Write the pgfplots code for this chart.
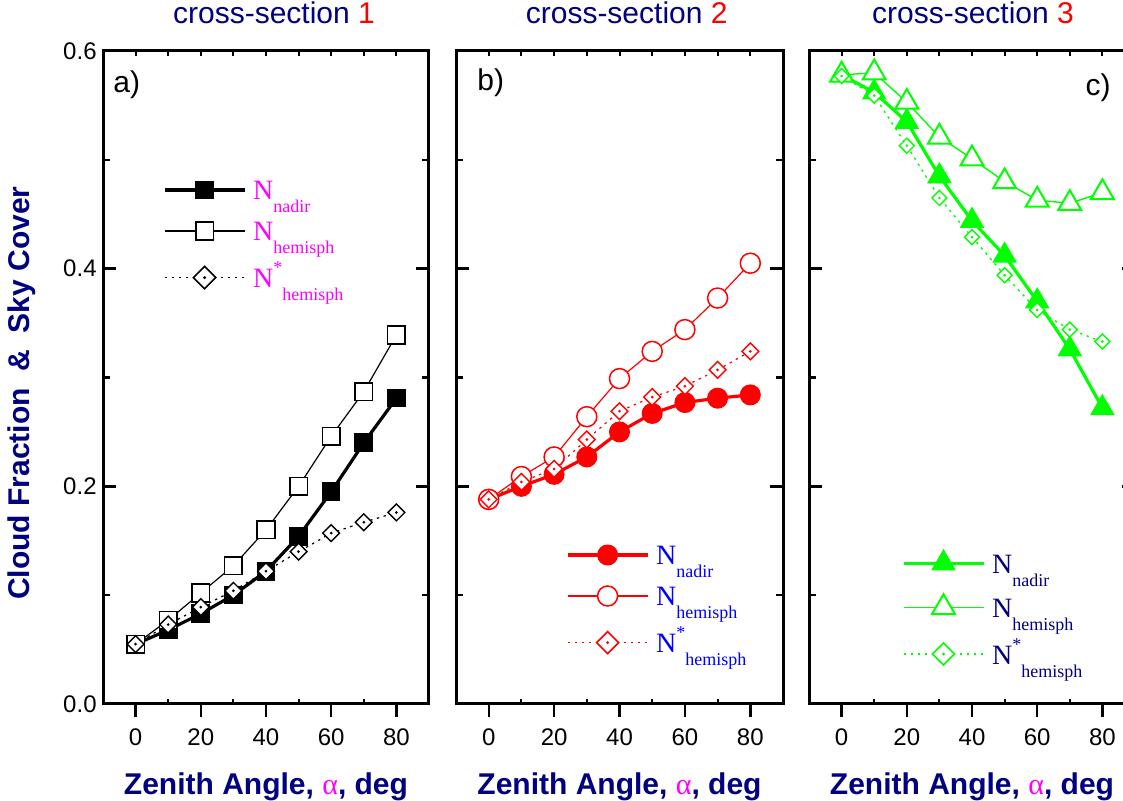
\documentclass[border=0pt]{standalone}
\usepackage{pgfplots}
\pgfplotsset{compat=1.18}
\usepackage{fontspec}
\setmainfont{Liberation Sans}
\newfontfamily\tms{Liberation Serif}
\definecolor{navy}{RGB}{0,0,128}
\definecolor{mag}{RGB}{255,0,255}
\definecolor{myred}{RGB}{255,0,0}
\definecolor{mygreen}{RGB}{0,255,0}
\definecolor{myblue}{RGB}{0,0,255}

\pgfdeclareplotmark{odia}{%
  \pgfpathmoveto{\pgfqpoint{0pt}{\pgfplotmarksize}}%
  \pgfpathlineto{\pgfqpoint{\pgfplotmarksize}{0pt}}%
  \pgfpathlineto{\pgfqpoint{0pt}{-\pgfplotmarksize}}%
  \pgfpathlineto{\pgfqpoint{-\pgfplotmarksize}{0pt}}%
  \pgfpathclose
  \pgfusepathqfillstroke
  \pgfpathcircle{\pgfpointorigin}{0.25pt}%
  \pgfusepathqstroke
}

\newcommand\lgN[2]{\hspace*{3.5pt}\raisebox{0pt}[10pt][10.5pt]{\textcolor{#1}{\tms\fontsize{14}{14}\selectfont N\raisebox{-6.5pt}{\fontsize{9}{9}\selectfont #2}}}}
\newcommand\lgS[1]{\hspace*{3.5pt}\raisebox{0pt}[12.8pt][10.5pt]{\textcolor{#1}{\tms\fontsize{14}{14}\selectfont N\raisebox{7pt}{\fontsize{9}{9}\selectfont *}\raisebox{-6.5pt}{\fontsize{9}{9}\selectfont hemisph}}}}

\pgfplotsset{
  base/.style={
    scale only axis, height=326.5pt, anchor=south west,
    xmin=-10, xmax=90, ymin=0, ymax=0.6,
    xtick={0,20,...,80}, ytick={0,0.2,0.4,0.6}, minor ytick={0.1,0.3,0.5},
    xtick pos=left, ytick pos=both,
    xtick align=outside, ytick align=inside,
    major tick length=6.5pt, minor tick length=3.5pt,
    axis line style={line width=1.5pt},
    tick style={black, line width=1.2pt},
    tick label style={font=\fontsize{12}{12}\selectfont, inner sep=0pt},
    /pgf/number format/assume math mode=true,
    yticklabel style={xshift=-3pt, /pgf/number format/fixed, /pgf/number format/fixed zerofill, /pgf/number format/precision=1},
    xticklabel style={yshift=-5.5pt},
    clip=false,
    title style={font=\fontsize{15}{15}\selectfont, text=navy, inner sep=0pt, anchor=base},
    xlabel style={font=\bfseries\fontsize{15}{15}\selectfont, text=navy, inner sep=0pt, anchor=base, at={(axis description cs:0.5,-0.139)}},
    xlabel={Zenith Angle, \textcolor{mag}{\tms\mdseries α}, deg},
    legend style={draw=none, fill=none, inner sep=0pt, outer sep=0pt, row sep=0pt, column sep=0pt, nodes={inner sep=0pt, text depth=10.5pt}, cells={anchor=base west}, anchor=north west},
    legend image code/.code={\draw[mark repeat=2,mark phase=2,##1] plot coordinates {(0pt,5pt) (20pt,5pt) (40pt,5pt)};},
  },
  ovl/.style={scale only axis, height=326.5pt, anchor=south west,
    xmin=-10, xmax=90, ymin=0, ymax=0.6, axis line style={draw=none},
    ytick=\empty, xticklabels={}, xtick align=inside, major tick length=2.5pt,
    tick style={black, line width=1pt}},
}
\newcommand\tickovl[2]{%
  \begin{axis}[ovl, width=#2, at={(#1,48.5pt)}, xtick={0,10,...,80}, xtick pos=right]\end{axis}%
  \begin{axis}[ovl, width=#2, at={(#1,48.5pt)}, xtick={10,30,50,70}, xtick pos=left]\end{axis}%
}

\begin{document}
\begin{tikzpicture}
\useasboundingbox (0pt,0pt) rectangle (561.5pt,400.5pt);
\clip (0pt,0pt) rectangle (561.5pt,400.5pt);

% ---------- panel a
\begin{axis}[base, width=163pt, at={(51.5pt,48.5pt)},
  title={cross-section \textcolor{myred}{1}},
  title style={at={(axis description cs:0.5245,1.0234)}},
  ylabel={Cloud Fraction\ \ \&\ \ Sky Cover},
  ylabel style={font=\bfseries\fontsize{15}{15}\selectfont, text=navy, inner sep=0pt, at={(axis description cs:-0.248,0.476)}, anchor=center},
  legend style={at={(axis description cs:0.184,0.8025)}},
]
\addplot[black, line width=1.6pt, mark=square*, mark size=4.4pt, mark options={solid, fill=black, line width=0.5pt}]
 coordinates {(0,0.055)(10,0.068)(20,0.083)(30,0.100)(40,0.122)(50,0.154)(60,0.195)(70,0.240)(80,0.281)};
\addlegendentry{\lgN{mag}{nadir}}
\addplot[black, line width=0.6pt, mark=square*, mark size=4.4pt, mark options={solid, fill=white, line width=0.8pt}]
 coordinates {(0,0.055)(10,0.077)(20,0.102)(30,0.127)(40,0.160)(50,0.200)(60,0.246)(70,0.287)(80,0.339)};
\addlegendentry{\lgN{mag}{hemisph}}
\addplot[forget plot, black, line width=0.6pt, dash pattern=on 1.2pt off 2.3pt, mark=odia, mark size=4.2pt, mark options={solid, fill=white, line width=0.7pt}]
 coordinates {(0,0.055)(10,0.073)(20,0.089)(30,0.104)(40,0.122)(50,0.140)(60,0.157)(70,0.167)(80,0.176)};
\addlegendimage{black, line width=0.6pt, dash pattern=on 1.2pt off 2.3pt, mark=odia, mark size=5.6pt, mark options={solid, fill=white, line width=0.8pt}}
\addlegendentry{\lgS{mag}}
\node[anchor=base west, font=\fontsize{15}{15}\selectfont, inner sep=0pt] at (axis description cs:0.0307,0.937) {a)};
\end{axis}
\tickovl{51.5pt}{163pt}

% ---------- panel b
\begin{axis}[base, width=163.5pt, at={(228pt,48.5pt)}, yticklabels={},
  title={cross-section \textcolor{myred}{2}},
  title style={at={(axis description cs:0.522,1.0234)}},
  legend style={at={(axis description cs:0.3364,0.2435)}},
]
\addplot[myred, line width=1.6pt, mark=*, mark size=5pt, mark options={solid, fill=myred, line width=0.5pt}]
 coordinates {(0,0.188)(10,0.200)(20,0.211)(30,0.227)(40,0.250)(50,0.267)(60,0.277)(70,0.281)(80,0.284)};
\addlegendentry{\lgN{myblue}{nadir}}
\addplot[myred, line width=0.6pt, mark=*, mark size=5pt, mark options={solid, fill=white, line width=0.75pt}]
 coordinates {(0,0.188)(10,0.209)(20,0.227)(30,0.264)(40,0.299)(50,0.324)(60,0.344)(70,0.373)(80,0.405)};
\addlegendentry{\lgN{myblue}{hemisph}}
\addplot[forget plot, myred, line width=0.6pt, dash pattern=on 1.2pt off 2.3pt, mark=odia, mark size=4.2pt, mark options={solid, fill=white, line width=0.7pt}]
 coordinates {(0,0.188)(10,0.204)(20,0.216)(30,0.243)(40,0.269)(50,0.282)(60,0.292)(70,0.307)(80,0.324)};
\addlegendimage{myred, line width=0.6pt, dash pattern=on 1.2pt off 2.3pt, mark=odia, mark size=5.5pt, mark options={solid, fill=white, line width=0.8pt}}
\addlegendentry{\lgS{myblue}}
\node[anchor=base west, font=\fontsize{15}{15}\selectfont, inner sep=0pt] at (axis description cs:0.064,0.939) {b)};
\end{axis}
\tickovl{228pt}{163.5pt}

% ---------- panel c
\begin{axis}[base, width=163pt, at={(404.5pt,48.5pt)}, yticklabels={},
  title={cross-section \textcolor{myred}{3}},
  title style={at={(axis description cs:0.503,1.0234)}},
  legend style={at={(axis description cs:0.285,0.2358)}},
]
\addplot[mygreen, line width=1.6pt, mark=triangle*, mark size=6.6pt, mark options={solid, fill=mygreen, line width=0.5pt}]
 coordinates {(0,0.578)(10,0.562)(20,0.535)(30,0.485)(40,0.444)(50,0.412)(60,0.370)(70,0.326)(80,0.272)};
\addlegendentry{\lgN{navy}{nadir}}
\addplot[mygreen, line width=0.7pt, mark=triangle*, mark size=6.6pt, mark options={solid, fill=white, line width=1pt}]
 coordinates {(0,0.578)(10,0.580)(20,0.553)(30,0.521)(40,0.501)(50,0.480)(60,0.463)(70,0.460)(80,0.470)};
\addlegendentry{\lgN{navy}{hemisph}}
\addplot[forget plot, mygreen, line width=0.7pt, dash pattern=on 1.2pt off 2.3pt, mark=odia, mark size=3.75pt, mark options={solid, fill=white, line width=0.7pt}]
 coordinates {(0,0.577)(10,0.559)(20,0.513)(30,0.465)(40,0.429)(50,0.394)(60,0.362)(70,0.344)(80,0.333)};
\addlegendimage{mygreen, line width=0.7pt, dash pattern=on 1.2pt off 2.3pt, mark=odia, mark size=5.5pt, mark options={solid, fill=white, line width=0.8pt}}
\addlegendentry{\lgS{navy}}
\node[anchor=base west, font=\fontsize{15}{15}\selectfont, inner sep=0pt] at (axis description cs:0.847,0.932) {c)};
\end{axis}
\tickovl{404.5pt}{163pt}
\end{tikzpicture}
\end{document}
